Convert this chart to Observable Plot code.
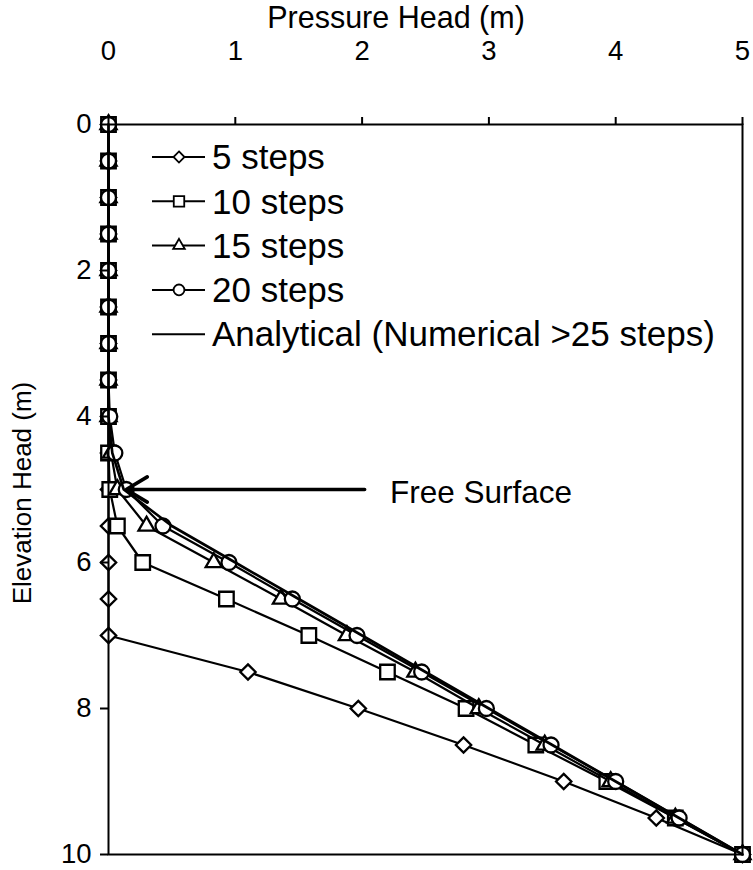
<!DOCTYPE html>
<html>
<head>
<meta charset="utf-8">
<script src="https://cdn.jsdelivr.net/npm/d3@7"></script>
<script src="https://cdn.jsdelivr.net/npm/@observablehq/plot@0.6"></script>
<style>
  html, body { margin: 0; padding: 0; background: #fff; }
  #chart svg { display: block; }
</style>
</head>
<body>
<div id="chart"></div>
<script>
// Elevation head (m) of each node
const elevation = [0,0.5,1,1.5,2,2.5,3,3.5,4,4.5,5,5.5,6,6.5,7,7.5,8,8.5,9,9.5,10];
// Pressure head (m) per series
const steps5  = [0,0,0,0,0,0,0,0,0,0,0,0,0,0,0,1.10,1.97,2.80,3.59,4.32,5];
const steps10 = [0,0,0,0,0,0,0,0,0,0,0.01,0.07,0.27,0.93,1.58,2.20,2.82,3.37,3.93,4.47,5];
const steps15 = [0,0,0,0,0,0,0,0,0,0.02,0.07,0.30,0.83,1.36,1.88,2.42,2.92,3.44,3.96,4.47,5];
const steps20 = [0,0,0,0,0,0,0,0,0.01,0.05,0.14,0.43,0.95,1.45,1.96,2.47,2.98,3.49,4.00,4.50,5];
const analytical = [0,0,0,0,0,0,0,0,0,0.03,0.12,0.50,1.00,1.50,2.00,2.50,3.00,3.50,4.00,4.50,5];

const seriesNames = ["5 steps", "10 steps", "15 steps", "20 steps", "Analytical (Numerical >25 steps)"];
const xTicks = [0,1,2,3,4,5];
const yTicks = [0,2,4,6,8,10];

// Free-surface annotation
const freeSurfaceLabel = "Free Surface";
const freeSurfaceElevation = 5;
const arrowFromPressure = 2.02;
const arrowToPressure = 0.14;
const labelPressure = 2.22;

const toRows = (vals) => vals.map((p, i) => ({p, z: elevation[i]}));

const series = [
  {name: seriesNames[0], rows: toRows(steps5),  symbol: "diamond2",  r: 6.9},
  {name: seriesNames[1], rows: toRows(steps10), symbol: "square",    r: 8.2},
  {name: seriesNames[2], rows: toRows(steps15), symbol: "triangle2", r: 7.7},
  {name: seriesNames[3], rows: toRows(steps20), symbol: "circle",    r: 7.5}
];

const FONT = 31.5;
const TITLE_FONT = 30.5;
const LEGEND_FONT = 35;
const TICK_FONT = 27.5;
const YTITLE_FONT = 26;

const marks = [];
for (const s of series) {
  marks.push(Plot.line(s.rows, {x: "p", y: "z", stroke: "black", strokeWidth: 2.2}));
  marks.push(Plot.dot(s.rows, {x: "p", y: "z", symbol: s.symbol, r: s.r, fill: "white", stroke: "black", strokeWidth: 2.3}));
}
marks.push(Plot.line(toRows(analytical), {x: "p", y: "z", stroke: "black", strokeWidth: 2.6}));

marks.push(Plot.arrow([{}], {
  x1: () => arrowFromPressure, x2: () => arrowToPressure,
  y1: () => freeSurfaceElevation, y2: () => freeSurfaceElevation,
  stroke: "black", strokeWidth: 3.6, headAngle: 62, headLength: 10.2, bend: 0
}));
marks.push(Plot.text([freeSurfaceLabel], {
  x: () => labelPressure, y: () => freeSurfaceElevation, text: d => d,
  textAnchor: "start", fontSize: FONT, dy: 3, fill: "black"
}));

marks.push(Plot.frame({stroke: "black", strokeWidth: 2}));
marks.push(Plot.axisX({
  anchor: "top", ticks: xTicks, tickSize: 8, tickPadding: 57, strokeWidth: 2, fontSize: TICK_FONT,
  tickFormat: d => String(d), label: null
}));
marks.push(Plot.axisY({
  anchor: "left", ticks: yTicks, tickSize: 8, tickPadding: 9, strokeWidth: 2, fontSize: TICK_FONT,
  tickFormat: d => String(d), label: null
}));

const chart = Plot.plot({
  width: 753,
  height: 870,
  marginLeft: 108,
  marginRight: 11,
  marginTop: 124,
  marginBottom: 16,
  style: {fontFamily: "'Liberation Sans', Arial, sans-serif", fontSize: "24px", color: "black", background: "white"},
  x: {domain: [0, 5]},
  y: {domain: [0, 10], reverse: true},
  marks
});

const svg = d3.select(chart);

// Axis titles
svg.append("text").attr("x", 396).attr("y", 17.5).attr("dy", "0.35em")
  .attr("text-anchor", "middle").attr("font-size", TITLE_FONT).attr("fill", "black")
  .text("Pressure Head (m)");
svg.append("text").attr("transform", "translate(22,493) rotate(-90)").attr("dy", "0.35em")
  .attr("text-anchor", "middle").attr("font-size", YTITLE_FONT).attr("fill", "black")
  .text("Elevation Head (m)");

// Legend (inside the frame, top-left)
const legend = svg.append("g").attr("transform", "translate(152,157)");
const legendItems = [...series, {name: seriesNames[4], symbol: null}];
const symMap = {diamond2: d3.symbolDiamond2, square: d3.symbolSquare, triangle2: d3.symbolTriangle2, circle: d3.symbolCircle};
const legendScale = 0.72;
legendItems.forEach((s, i) => {
  const g = legend.append("g").attr("transform", `translate(0,${i * 44.3})`);
  g.append("line").attr("x1", 0).attr("x2", 53).attr("y1", 0).attr("y2", 0)
    .attr("stroke", "black").attr("stroke-width", 2);
  if (s.symbol) {
    const size = Math.PI * (s.r * legendScale) ** 2;
    g.append("path").attr("d", d3.symbol(symMap[s.symbol], size)())
      .attr("transform", "translate(27,0)")
      .attr("fill", "white").attr("stroke", "black").attr("stroke-width", 1.8);
  }
  g.append("text").attr("x", 60).attr("y", 0).attr("dy", "0.35em")
    .attr("text-anchor", "start").attr("font-size", LEGEND_FONT).attr("fill", "black").text(s.name);
});

document.getElementById("chart").appendChild(chart);
</script>
</body>
</html>
